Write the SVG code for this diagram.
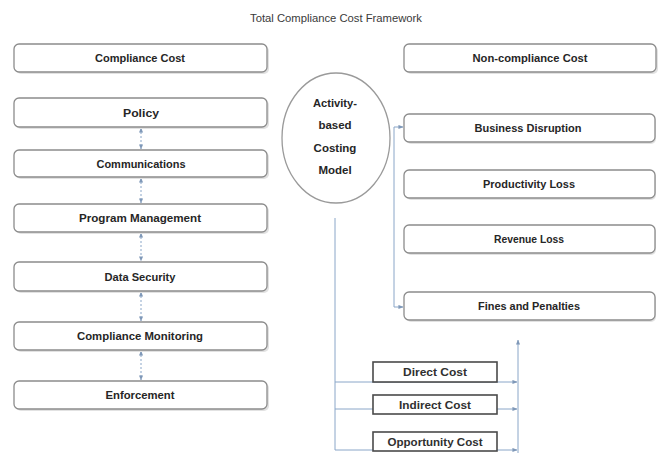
<svg xmlns="http://www.w3.org/2000/svg" width="659" height="460" viewBox="0 0 659 460">
<style>
.box{fill:#fff;stroke:#8c8c8c;stroke-width:1.3}
.sh{fill:#e2e2e2;stroke:none}
.sq{fill:#fff;stroke:#4a4a4a;stroke-width:1.6}
.lbl{font-family:"Liberation Sans",Arial,sans-serif;font-weight:bold;font-size:11.5px;fill:#262626;text-anchor:middle}
.sl{font-family:"Liberation Sans",Arial,sans-serif;font-weight:bold;font-size:11px;fill:#303030;text-anchor:middle}
.title{font-family:"Liberation Sans",Arial,sans-serif;font-size:11px;fill:#3a3a3a;text-anchor:middle}
.dash{stroke:#8aa6c8;stroke-width:1;stroke-dasharray:2 2;fill:none}
.ln{stroke:#8aa6c8;stroke-width:1;fill:none}
</style>
<defs>
<marker id="ah" viewBox="0 0 6 6" refX="5.5" refY="3" markerWidth="5" markerHeight="5" orient="auto-start-reverse">
<path d="M0,0.5 L6,3 L0,5.5 Z" fill="#7f98b8"/>
</marker>
</defs>
<rect width="659" height="460" fill="#fff"/>
<text class="title" x="336" y="22" textLength="172" lengthAdjust="spacingAndGlyphs">Total Compliance Cost Framework</text>

<g id="connectors">
<line class="dash" x1="141" y1="128" x2="141" y2="149" marker-start="url(#ah)" marker-end="url(#ah)"/>
<line class="dash" x1="141" y1="178" x2="141" y2="203" marker-start="url(#ah)" marker-end="url(#ah)"/>
<line class="dash" x1="141" y1="233" x2="141" y2="261" marker-start="url(#ah)" marker-end="url(#ah)"/>
<line class="dash" x1="141" y1="292" x2="141" y2="321" marker-start="url(#ah)" marker-end="url(#ah)"/>
<line class="dash" x1="141" y1="351" x2="141" y2="380" marker-start="url(#ah)" marker-end="url(#ah)"/>
<line class="ln" x1="394" y1="127" x2="394" y2="307"/>
<line class="ln" x1="394" y1="127" x2="403" y2="127" marker-end="url(#ah)"/>
<line class="ln" x1="394" y1="307" x2="403" y2="307" marker-end="url(#ah)"/>
<line class="ln" x1="335" y1="218" x2="335" y2="450"/>
<line class="ln" x1="335" y1="382" x2="517" y2="382" marker-end="url(#ah)"/>
<line class="ln" x1="335" y1="409" x2="517" y2="409" marker-end="url(#ah)"/>
<line class="ln" x1="335" y1="450" x2="517" y2="450" marker-end="url(#ah)"/>
<line class="ln" x1="518" y1="453" x2="518" y2="340" marker-end="url(#ah)"/>
</g>

<g id="compliance-cost"><rect class="sh" x="16" y="46" width="253" height="28" rx="5"/><rect class="box" x="14" y="44" width="253" height="28" rx="5"/><text class="lbl" x="140" y="62" textLength="90" lengthAdjust="spacingAndGlyphs">Compliance Cost</text></g>
<g id="policy"><rect class="sh" x="16" y="100" width="253" height="29" rx="5"/><rect class="box" x="14" y="98" width="253" height="29" rx="5"/><text class="lbl" x="141" y="117" textLength="36" lengthAdjust="spacingAndGlyphs">Policy</text></g>
<g id="communications"><rect class="sh" x="16" y="152" width="253" height="27" rx="5"/><rect class="box" x="14" y="150" width="253" height="27" rx="5"/><text class="lbl" x="141" y="168" textLength="89" lengthAdjust="spacingAndGlyphs">Communications</text></g>
<g id="program-management"><rect class="sh" x="16" y="206" width="253" height="28" rx="5"/><rect class="box" x="14" y="204" width="253" height="28" rx="5"/><text class="lbl" x="140" y="222" textLength="122" lengthAdjust="spacingAndGlyphs">Program Management</text></g>
<g id="data-security"><rect class="sh" x="16" y="264" width="253" height="29" rx="5"/><rect class="box" x="14" y="262" width="253" height="29" rx="5"/><text class="lbl" x="140" y="281" textLength="71" lengthAdjust="spacingAndGlyphs">Data Security</text></g>
<g id="compliance-monitoring"><rect class="sh" x="16" y="324" width="253" height="28" rx="5"/><rect class="box" x="14" y="322" width="253" height="28" rx="5"/><text class="lbl" x="140" y="340" textLength="126" lengthAdjust="spacingAndGlyphs">Compliance Monitoring</text></g>
<g id="enforcement"><rect class="sh" x="16" y="383" width="253" height="28" rx="5"/><rect class="box" x="14" y="381" width="253" height="28" rx="5"/><text class="lbl" x="140" y="399" textLength="69" lengthAdjust="spacingAndGlyphs">Enforcement</text></g>

<g id="non-compliance-cost"><rect class="sh" x="406" y="46" width="252" height="28" rx="5"/><rect class="box" x="404" y="44" width="252" height="28" rx="5"/><text class="lbl" x="530" y="62" textLength="115" lengthAdjust="spacingAndGlyphs">Non-compliance Cost</text></g>
<g id="business-disruption"><rect class="sh" x="406" y="116" width="250" height="28" rx="5"/><rect class="box" x="404" y="114" width="251" height="28" rx="5"/><text class="lbl" x="528" y="132" textLength="107" lengthAdjust="spacingAndGlyphs">Business Disruption</text></g>
<g id="productivity-loss"><rect class="sh" x="406" y="172" width="250" height="28" rx="5"/><rect class="box" x="404" y="170" width="251" height="28" rx="5"/><text class="lbl" x="529" y="188" textLength="92" lengthAdjust="spacingAndGlyphs">Productivity Loss</text></g>
<g id="revenue-loss"><rect class="sh" x="406" y="227" width="250" height="28" rx="5"/><rect class="box" x="404" y="225" width="251" height="28" rx="5"/><text class="lbl" x="529" y="243" textLength="70" lengthAdjust="spacingAndGlyphs">Revenue Loss</text></g>
<g id="fines-and-penalties"><rect class="sh" x="406" y="294" width="250" height="28" rx="5"/><rect class="box" x="404" y="292" width="251" height="28" rx="5"/><text class="lbl" x="529" y="310" textLength="102" lengthAdjust="spacingAndGlyphs">Fines and Penalties</text></g>

<g id="abc-model">
<ellipse cx="336" cy="138" rx="54" ry="65" fill="#fff" stroke="#9a9a9a" stroke-width="1.3"/>
<text class="lbl" x="335" y="107" textLength="44" lengthAdjust="spacingAndGlyphs">Activity-</text>
<text class="lbl" x="335" y="129">based</text>
<text class="lbl" x="335" y="152">Costing</text>
<text class="lbl" x="335" y="174">Model</text>
</g>

<g id="direct-cost"><rect class="sq" x="373" y="362" width="124" height="20"/><text class="sl" x="435" y="376" textLength="64" lengthAdjust="spacingAndGlyphs">Direct  Cost</text></g>
<g id="indirect-cost"><rect class="sq" x="373" y="395" width="124" height="19"/><text class="sl" x="435" y="409" textLength="72" lengthAdjust="spacingAndGlyphs">Indirect Cost</text></g>
<g id="opportunity-cost"><rect class="sq" x="373" y="432" width="124" height="19"/><text class="sl" x="435" y="446" textLength="95" lengthAdjust="spacingAndGlyphs">Opportunity  Cost</text></g>
</svg>
